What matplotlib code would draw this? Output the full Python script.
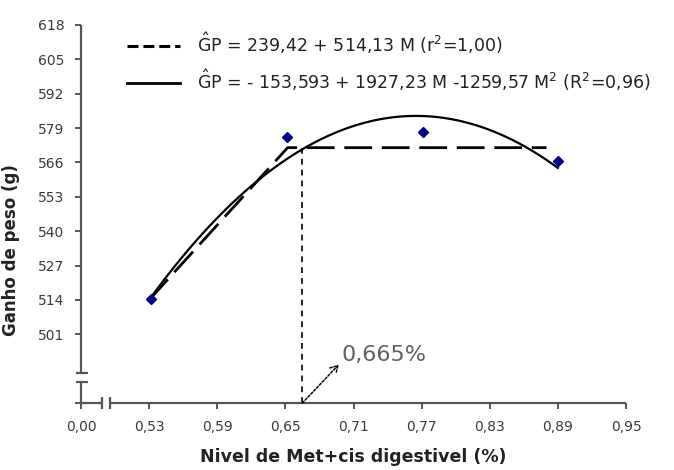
import numpy as np
import matplotlib
matplotlib.use("Agg")
import matplotlib.pyplot as plt
from matplotlib.lines import Line2D
from matplotlib.transforms import blended_transform_factory

# dados
nivel = [0.532, 0.651, 0.771, 0.89]
ganho = [514.4, 575.6, 577.4, 566.4]

# linear-plato
lp_x = [0.53, 0.652, 0.88]
lp_y = [514.0, 571.6, 571.6]

# quadratica: GP = b0 + b1 M + b2 M^2
b0, b1, b2 = -153.593, 1927.23, -1259.57
quad_range = [0.53, 0.89]

ponto_otimo = 0.665

x_ticks = [0.00, 0.53, 0.59, 0.65, 0.71, 0.77, 0.83, 0.89, 0.95]
y_ticks = [501, 514, 527, 540, 553, 566, 579, 592, 605, 618]
y_min = 475

label_lin = r"$\hat{\mathrm{G}}\mathrm{P}$ = 239,42 + 514,13 M (r$^2$=1,00)"
label_quad = r"$\hat{\mathrm{G}}\mathrm{P}$ = - 153,593 + 1927,23 M -1259,57 M$^2$ (R$^2$=0,96)"

axis_col = "#555555"
txt_col = "#3a3a3a"


def fwd(x):
    x = np.asarray(x, dtype=float)
    return np.where(x < 0.53, x / 0.53, 1 + (x - 0.53) / 0.06)


def inv(p):
    p = np.asarray(p, dtype=float)
    return np.where(p < 1, p * 0.53, 0.53 + (p - 1) * 0.06)


fig = plt.figure(figsize=(6.74, 4.70), dpi=100)
ax = fig.add_axes([81 / 674, 1 - 403 / 470, 545 / 674, 378 / 470])
ax.set_xscale("function", functions=(fwd, inv))
ax.set_xlim(0, 0.95)
ax.set_ylim(y_min, 618)

# curva quadratica
mm = np.linspace(quad_range[0], quad_range[1], 200)
ax.plot(mm, b0 + b1 * mm + b2 * mm ** 2, color="black", lw=1.6, zorder=3)

# linear plato
ax.plot(lp_x, lp_y, color="black", lw=2.0, dashes=(10, 3.5), zorder=3)

# linha vertical no ponto otimo
plato = lp_y[-1]
ax.plot([ponto_otimo, ponto_otimo], [y_min, plato], color="black", lw=1.2,
        dashes=(3.5, 3), zorder=2)

# pontos
ax.plot(nivel, ganho, linestyle="none", marker="D", markersize=5,
        color="#00008b", zorder=4)

# seta e texto
ax.annotate("", xy=(0.697, 489.5), xytext=(ponto_otimo, y_min),
            arrowprops=dict(arrowstyle="->,head_length=0.5,head_width=0.3",
                            color="black", lw=1.1,
                            linestyle=(0, (1.5, 1.2)), shrinkA=0, shrinkB=0))
ax.text(0.699, 493, "0,665%", fontsize=16, color="#606060", va="center", ha="left")

# eixos com quebra
for s in ax.spines.values():
    s.set_visible(False)
ty = blended_transform_factory(ax.transAxes, ax.transData)
tx = blended_transform_factory(ax.transData, ax.transAxes)
yb_lo, yb_hi = 482.8, 486.2
xb_lo, xb_hi = 0.164, 0.226
kw = dict(color=axis_col, lw=1.6, clip_on=False, solid_capstyle="butt")
ax.plot([0, 0], [yb_hi, 618], transform=ty, **kw)
ax.plot([0, 0], [y_min, yb_lo], transform=ty, **kw)
for yb in (yb_lo, yb_hi):
    ax.plot([-5 / 545, 7 / 545], [yb, yb], transform=ty, **kw)
ax.plot([0, xb_lo], [0, 0], transform=tx, **kw)
ax.plot([xb_hi, 0.95], [0, 0], transform=tx, **kw)
for xb in (xb_lo, xb_hi):
    ax.plot([xb, xb], [-6 / 378, 6 / 378], transform=tx, **kw)

ax.set_xticks(x_ticks)
ax.set_xticklabels([f"{v:.2f}".replace(".", ",") for v in x_ticks])
ax.set_yticks([y_min] + y_ticks)
ax.set_yticklabels([""] + [str(v) for v in y_ticks])
ax.minorticks_off()
ax.tick_params(axis="both", direction="out", length=4, width=1.4, color=axis_col,
               labelsize=10, labelcolor=txt_col)
ax.tick_params(axis="x", pad=8)
ax.tick_params(axis="y", pad=8)

ax.set_xlabel("Nivel de Met+cis digestivel (%)", fontsize=12.5, fontweight="bold",
              color="#222222", labelpad=10)
ax.set_ylabel("Ganho de peso (g)", fontsize=12, fontweight="bold", color="#222222")
ax.yaxis.set_label_coords(-61 / 545, 0.405)

handles = [Line2D([], [], color="black", lw=2.2, dashes=(3.6, 1.6)),
           Line2D([], [], color="black", lw=2.0)]
fig.legend(handles, [label_lin, label_quad], loc="upper left",
           bbox_to_anchor=(127 / 674, 1 - 30 / 470), frameon=False,
           fontsize=12.5, handlelength=3.05, handletextpad=0.98,
           labelspacing=0.7, borderpad=0, borderaxespad=0, labelcolor="#222222")

fig.savefig("out.png", dpi=100, facecolor="white")
